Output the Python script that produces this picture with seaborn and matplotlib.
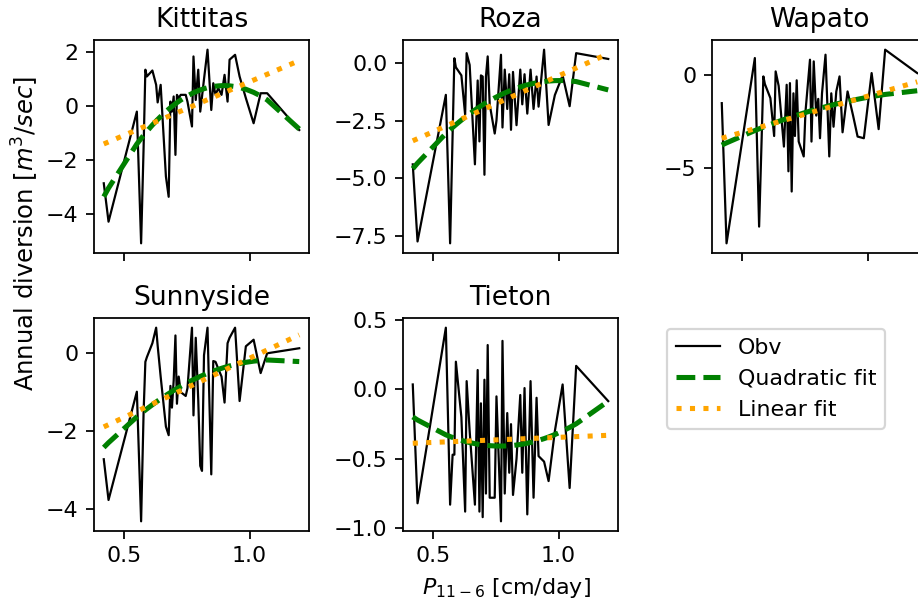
import numpy as np
import pandas as pd
import matplotlib
matplotlib.use("Agg")
import matplotlib.pyplot as plt
from matplotlib.ticker import MultipleLocator
import seaborn as sns

# Mean Nov-Jun precipitation (cm/day), sorted
precip = [0.418, 0.437, 0.550, 0.567, 0.577, 0.584, 0.590, 0.612, 0.627, 0.633,
          0.645, 0.666, 0.677, 0.684, 0.690, 0.697, 0.704, 0.710, 0.717, 0.725,
          0.745, 0.752, 0.770, 0.776, 0.785, 0.795, 0.803, 0.810, 0.818, 0.832,
          0.847, 0.855, 0.864, 0.875, 0.888, 0.900, 0.912, 0.920, 0.942, 0.960,
          0.985, 1.016, 1.044, 1.070, 1.198]

# Annual diversion anomalies (m^3/sec) per irrigation district
kittitas = [-2.85, -4.27, -0.20, -5.07, -1.50, 1.35, 1.10, 1.32, 0.79, 0.14,
            0.79, -2.60, -3.35, 0.17, -0.20, 0.36, -1.80, 0.42, 0.30, 0.42,
            0.42, 0.17, -0.75, 1.84, 0.23, 1.35, -0.20, 0.35, 1.00, 2.09,
            -0.14, 0.85, 0.42, 0.67, 0.42, 1.16, 0.17, 1.72, 1.90, 1.10,
            0.30, -0.63, 0.48, 0.48, -0.88]
roza = [-4.39, -7.72, -1.39, -7.80, -3.10, 0.19, -0.20, -0.55, -2.25, 0.41,
        -0.10, -4.39, -0.77, -3.40, -0.55, -0.60, -4.84, -0.60, 0.27, -1.80,
        -3.06, -2.50, 0.34, -2.80, -0.30, -2.00, -0.50, -2.90, -0.40, -2.70,
        -0.30, -1.80, -0.50, -2.20, -0.30, -2.00, -0.60, -1.90, 0.56, -2.69,
        -1.40, -0.55, -1.88, 0.41, 0.16]
wapato = [-1.53, -9.08, 0.90, -8.18, -3.50, -0.09, -0.50, -1.26, -3.30, 0.18,
          -0.60, -3.87, -0.54, -5.20, -0.45, -6.29, -1.00, -3.30, -0.30, -3.60,
          -4.40, -2.00, 0.81, -3.60, 0.72, -2.20, -1.30, -3.42, -1.00, 1.08,
          -4.40, -1.00, -2.80, -0.90, -0.09, -3.10, -1.78, -0.90, -2.20, -3.33,
          -3.42, 0.09, -2.93, 1.35, 0.09]
sunnyside = [-2.73, -3.78, -0.99, -4.33, -1.50, -0.22, -0.10, 0.26, 0.66, 0.20,
             -0.60, -1.89, -2.11, -0.84, -1.40, -0.70, 0.46, -1.30, -0.60, -1.00,
             -1.10, -0.90, 0.66, -1.60, 0.40, -1.20, -2.90, -3.03, -0.05, 0.66,
             -3.12, -0.20, -0.22, -0.40, -0.60, -1.27, 0.26, 0.40, 0.66, -1.23,
             0.18, 0.35, -0.51, 0.00, 0.13]
tieton = [0.036, -0.82, 0.445, -0.83, -0.47, -0.47, 0.20, -0.20, -0.88, 0.06,
          -0.30, -0.83, 0.14, -0.88, -0.10, -0.92, 0.07, -0.75, 0.32, -0.78,
          -0.78, -0.05, -0.95, 0.35, -0.75, -0.17, -0.60, -0.25, -0.76, -0.50,
          -0.04, -0.60, 0.01, -0.90, 0.06, -0.78, -0.06, -0.48, -0.52, -0.66,
          -0.30, 0.036, -0.71, 0.17, -0.084]

districts = ["Kittitas", "Roza", "Wapato", "Sunnyside", "Tieton"]
series = [kittitas, roza, wapato, sunnyside, tieton]
ytick_steps = [2, 2.5, 5, 2, 0.5]

W, H, DPI = 918, 602, 159
fig, axes = plt.subplots(2, 3, sharex=True, figsize=(W / DPI, H / DPI), dpi=DPI)

# panel boxes in pixels: left, top, width, height
col_left = [94, 403, 712]
row_top = [40, 318]
pw, ph = 215, 213
for r in range(2):
    for c in range(3):
        axes[r, c].set_position([col_left[c] / W, 1 - (row_top[r] + ph) / H, pw / W, ph / H])

x = np.array(precip)
for k, (name, vals) in enumerate(zip(districts, series)):
    ax = axes.flat[k]
    y = np.array(vals)
    quad = np.polyval(np.polyfit(x, y, 2), x)
    lin = np.polyval(np.polyfit(x, y, 1), x)
    df = pd.DataFrame({"P": x, "obs": y, "quad": quad, "lin": lin})
    sns.lineplot(data=df, x="P", y="obs", ax=ax, color="black", lw=1, label="Obv",
                 sort=False, legend=False)
    sns.lineplot(data=df, x="P", y="quad", ax=ax, color="green", lw=2.3, ls="--",
                 label="Quadratic fit", sort=False, legend=False)
    sns.lineplot(data=df, x="P", y="lin", ax=ax, color="orange", lw=2.3, ls=":",
                 label="Linear fit", sort=False, legend=False)
    ax.yaxis.set_major_locator(MultipleLocator(ytick_steps[k]))
    ax.set_title(name, fontsize=12)
    ax.set_xlabel("")
    ax.set_ylabel("")

axes[1, 2].axis("off")
for ax in axes[1, :2]:
    ax.set_xticks([0.5, 1.0])

handles, labels = axes[0, 0].get_legend_handles_labels()
fig.legend(handles, labels, loc="upper left",
           bbox_to_anchor=(667 / W, 1 - 329 / H), borderaxespad=0)

fig.text(506 / W, 1 - 588 / H, r"$P_{11-6}$ [cm/day]", ha="center", va="center", fontsize=10)
fig.text(25 / W, 1 - 234 / H, r"Annual diversion [$m^3/sec$]", ha="center", va="center",
         rotation=90, fontsize=11)

fig.savefig("out.png", dpi=DPI)
